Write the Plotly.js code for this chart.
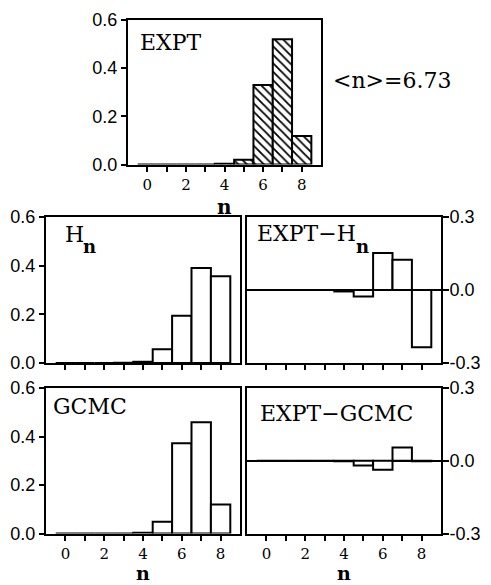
<!DOCTYPE html>
<html>
<head>
<meta charset="utf-8">
<script src="https://cdn.plot.ly/plotly-3.0.1.min.js"></script>
<style>html,body{margin:0;padding:0;background:#fff;}#chart{width:491px;height:585px;}</style>
</head>
<body>
<div id="chart"></div>
<script>
// ---- data ----
var nValues = [0, 1, 2, 3, 4, 5, 6, 7, 8];
var expt = [0, 0, 0, 0, 0.003, 0.02, 0.33, 0.52, 0.118];
var hn = [0, 0, 0, 0.001, 0.005, 0.056, 0.194, 0.39, 0.356];
var gcmc = [0, 0, 0, 0, 0.003, 0.048, 0.372, 0.459, 0.12];
var exptMinusHn = [0, 0, 0, 0, -0.006, -0.027, 0.152, 0.124, -0.235];
var exptMinusGcmc = [0, 0, 0, 0, -0.002, -0.02, -0.037, 0.055, -0.002];
var xTickVals = [0, 2, 4, 6, 8];
var xTickText = ["0", "2", "4", "6", "8"];
var xMinorTickVals = [1, 3, 5, 7];
var probTickVals = [0, 0.2, 0.4, 0.6];
var probTickText = ["0.0", "0.2", "0.4", "0.6"];
var diffTickVals = [-0.3, 0, 0.3];
var diffTickText = ["-0.3", "0.0", "0.3"];
var meanLabel = "&lt;n&gt;=6.73";

// ---- layout helpers ----
var W = 491, H = 585;
function fx(p) { return p / W; }
function fy(p) { return 1 - p / H; }

var serif = "DejaVu Serif";
var tickFontX = {family: serif, size: 15, color: "#000"};
var tickFontY = {family: "Liberation Sans", size: 18, color: "#000"};

function xAxis(x0, x1, anchor, labels) {
  return {
    domain: [fx(x0), fx(x1)], anchor: anchor, range: [-1, 9],
    showline: true, mirror: true, linecolor: "#000", linewidth: 2,
    ticks: "outside", ticklen: 5, tickwidth: 2, tickcolor: "#000",
    tickmode: "array", tickvals: xTickVals, ticktext: xTickText, showticklabels: labels,
    minor: {tickmode: "array", tickvals: xMinorTickVals, ticks: "outside", ticklen: 5,
            tickwidth: 2, tickcolor: "#000", showgrid: false},
    tickfont: tickFontX, showgrid: false, zeroline: false, fixedrange: true
  };
}
function yProb(y0, y1, anchor) {
  return {
    domain: [fy(y1), fy(y0)], anchor: anchor, range: [0, 0.6],
    showline: true, mirror: true, linecolor: "#000", linewidth: 2,
    ticks: "outside", ticklen: 5, tickwidth: 2, tickcolor: "#000",
    tickmode: "array", tickvals: probTickVals, ticktext: probTickText, tickfont: tickFontY,
    showgrid: false, zeroline: false, fixedrange: true
  };
}
function yDiff(y0, y1, anchor) {
  return {
    domain: [fy(y1), fy(y0)], anchor: anchor, range: [-0.3, 0.3], side: "right",
    showline: true, mirror: true, linecolor: "#000", linewidth: 2,
    ticks: "outside", ticklen: 6, tickwidth: 2, tickcolor: "#000",
    tickmode: "array", tickvals: diffTickVals, ticktext: diffTickText, tickfont: tickFontY,
    ticklabelstandoff: -3,
    showgrid: false, zeroline: true, zerolinecolor: "#000", zerolinewidth: 1.5,
    fixedrange: true
  };
}

function barTrace(y, xa, ya, hatched) {
  var marker = {color: "#fff", line: {color: "#000", width: 2}};
  if (hatched) {
    marker.pattern = {shape: "\\", size: 6, solidity: 0.3, fgcolor: "#000", bgcolor: "#fff", fillmode: "replace"};
  }
  return {type: "bar", x: nValues, y: y, width: 1, xaxis: xa, yaxis: ya,
          marker: marker, showlegend: false, hoverinfo: "skip"};
}

var data = [
  barTrace(expt, "x", "y", true),
  barTrace(hn, "x2", "y2", false),
  barTrace(exptMinusHn, "x3", "y3", false),
  barTrace(gcmc, "x4", "y4", false),
  barTrace(exptMinusGcmc, "x5", "y5", false)
];

function ann(text, x, y, size, opts) {
  var a = {text: text, xref: "paper", yref: "paper", x: fx(x), y: fy(y),
           xanchor: "left", yanchor: "middle", showarrow: false, borderpad: 0,
           font: {family: serif, size: size, color: "#000"}};
  for (var k in opts) a[k] = opts[k];
  return a;
}

var layout = {
  width: W, height: H,
  margin: {l: 0, r: 0, t: 0, b: 0},
  paper_bgcolor: "#fff", plot_bgcolor: "#fff",
  bargap: 0, showlegend: false,
  xaxis: xAxis(128, 321, "y", true),
  yaxis: yProb(20, 164.5, "x"),
  xaxis2: xAxis(46, 240, "y2", false),
  yaxis2: yProb(217, 363, "x2"),
  xaxis3: xAxis(247, 441, "y3", false),
  yaxis3: yDiff(217, 363, "x3"),
  xaxis4: xAxis(46, 240, "y4", true),
  yaxis4: yProb(388, 533.5, "x4"),
  xaxis5: xAxis(247, 441, "y5", true),
  yaxis5: yDiff(388, 533.5, "x5"),
  annotations: [
    ann("EXPT", 139, 42.5, 22),
    ann(meanLabel, 332, 81, 22),
    ann("H", 64, 234, 22),
    ann("<b>n</b>", 82, 246, 18),
    ann("EXPT−H", 256, 233.5, 22),
    ann("<b>n</b>", 355, 246, 18),
    ann("GCMC", 52, 406.5, 22),
    ann("EXPT−GCMC", 259, 413.5, 22),
    ann("<b>n</b>", 224, 207, 20, {xanchor: "center"}),
    ann("<b>n</b>", 143, 585, 19, {xanchor: "center", yanchor: "bottom"}),
    ann("<b>n</b>", 344, 585, 19, {xanchor: "center", yanchor: "bottom"})
  ]
};

Plotly.newPlot("chart", data, layout, {displayModeBar: false, staticPlot: true});
</script>
</body>
</html>
